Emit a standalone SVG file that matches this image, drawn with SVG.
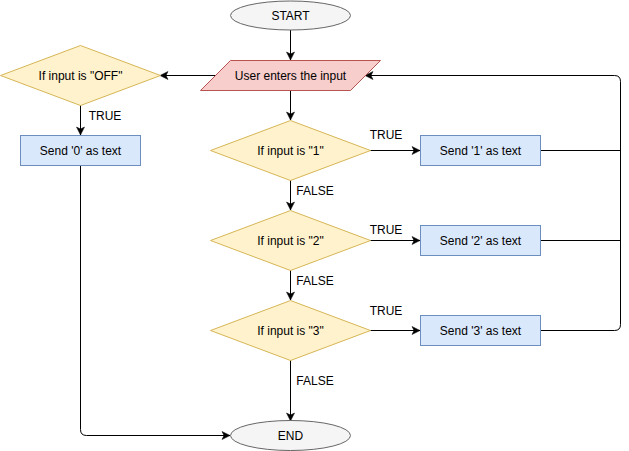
<svg xmlns="http://www.w3.org/2000/svg" width="629" height="451" viewBox="0 0 629 451">
  <style>
    text { font-family: "Liberation Sans", Arial, sans-serif; font-size: 12px; fill: #000000; text-anchor: middle; }
    .dec { fill: #fff2cc; stroke: #d6b656; stroke-width: 1; }
    .proc { fill: #dae8fc; stroke: #6c8ebf; stroke-width: 1; }
    .io { fill: #f8cecc; stroke: #b85450; stroke-width: 1; }
    .term { fill: #f5f5f5; stroke: #666666; stroke-width: 1; }
    .edge { fill: none; stroke: #000000; stroke-width: 1; }
    .arrow { marker-end: url(#arr); }
  </style>
  <defs>
    <marker id="arr" markerUnits="userSpaceOnUse" viewBox="0 0 10 10" markerWidth="10" markerHeight="10" refX="9" refY="5" orient="auto">
      <path d="M1,1 L9,5 L1,9 L3,5 Z" fill="#000000" stroke="#000000" stroke-width="0.5"/>
    </marker>
  </defs>
  <rect width="629" height="451" fill="#ffffff"/>

  <g id="connectors">
    <path class="edge arrow" d="M290.5,30 V60"/>
    <path class="edge arrow" d="M215,75.5 H160"/>
    <path class="edge arrow" d="M80.5,105 V135"/>
    <path class="edge arrow" d="M290.5,90 V120"/>
    <path class="edge arrow" d="M290.5,180 V210"/>
    <path class="edge arrow" d="M290.5,270 V300"/>
    <path class="edge arrow" d="M290.5,360 V421"/>
    <path class="edge arrow" d="M370,150.5 H420"/>
    <path class="edge arrow" d="M370,240.5 H420"/>
    <path class="edge arrow" d="M370,330.5 H420"/>
    <path class="edge" d="M540,150.5 H620.5"/>
    <path class="edge" d="M540,240.5 H620.5"/>
    <path class="edge arrow" d="M540,330.5 H614.5 Q620.5,330.5 620.5,324.5 V81.5 Q620.5,75.5 614.5,75.5 H365"/>
    <path class="edge arrow" d="M80.5,165 V429.5 Q80.5,435.5 86.5,435.5 H230"/>
    <text x="105" y="120">TRUE</text>
    <text x="386" y="139">TRUE</text>
    <text x="386" y="234">TRUE</text>
    <text x="386" y="315">TRUE</text>
    <text x="315" y="195">FALSE</text>
    <text x="315" y="285">FALSE</text>
    <text x="315" y="385">FALSE</text>
  </g>

  <g id="start">
    <ellipse class="term" cx="290.5" cy="15.5" rx="60" ry="14.5"/>
    <text x="290.5" y="19.5">START</text>
  </g>
  <g id="input">
    <polygon class="io" points="230.5,60.5 380.5,60.5 350.5,90.5 200.5,90.5"/>
    <text x="290.5" y="80">User enters the input</text>
  </g>
  <g id="if-off">
    <polygon class="dec" points="80.5,45.5 160.5,75.5 80.5,105.5 0.5,75.5"/>
    <text x="80.5" y="79.5">If input is "OFF"</text>
  </g>
  <g id="send-0">
    <rect class="proc" x="20.5" y="135.5" width="120" height="30"/>
    <text x="80.5" y="154.5">Send '0' as text</text>
  </g>
  <g id="if-1">
    <polygon class="dec" points="290.5,120.5 370.5,150.5 290.5,180.5 210.5,150.5"/>
    <text x="290.5" y="154.5">If input is "1"</text>
  </g>
  <g id="if-2">
    <polygon class="dec" points="290.5,210.5 370.5,240.5 290.5,270.5 210.5,240.5"/>
    <text x="290.5" y="244.5">If input is "2"</text>
  </g>
  <g id="if-3">
    <polygon class="dec" points="290.5,300.5 370.5,330.5 290.5,360.5 210.5,330.5"/>
    <text x="290.5" y="334.5">If input is "3"</text>
  </g>
  <g id="send-1">
    <rect class="proc" x="420.5" y="135.5" width="120" height="30"/>
    <text x="480.5" y="154.5">Send '1' as text</text>
  </g>
  <g id="send-2">
    <rect class="proc" x="420.5" y="225.5" width="120" height="30"/>
    <text x="480.5" y="244.5">Send '2' as text</text>
  </g>
  <g id="send-3">
    <rect class="proc" x="420.5" y="315.5" width="120" height="30"/>
    <text x="480.5" y="334.5">Send '3' as text</text>
  </g>
  <g id="end">
    <ellipse class="term" cx="290.5" cy="435.5" rx="60" ry="15"/>
    <text x="290.5" y="440">END</text>
  </g>
</svg>
